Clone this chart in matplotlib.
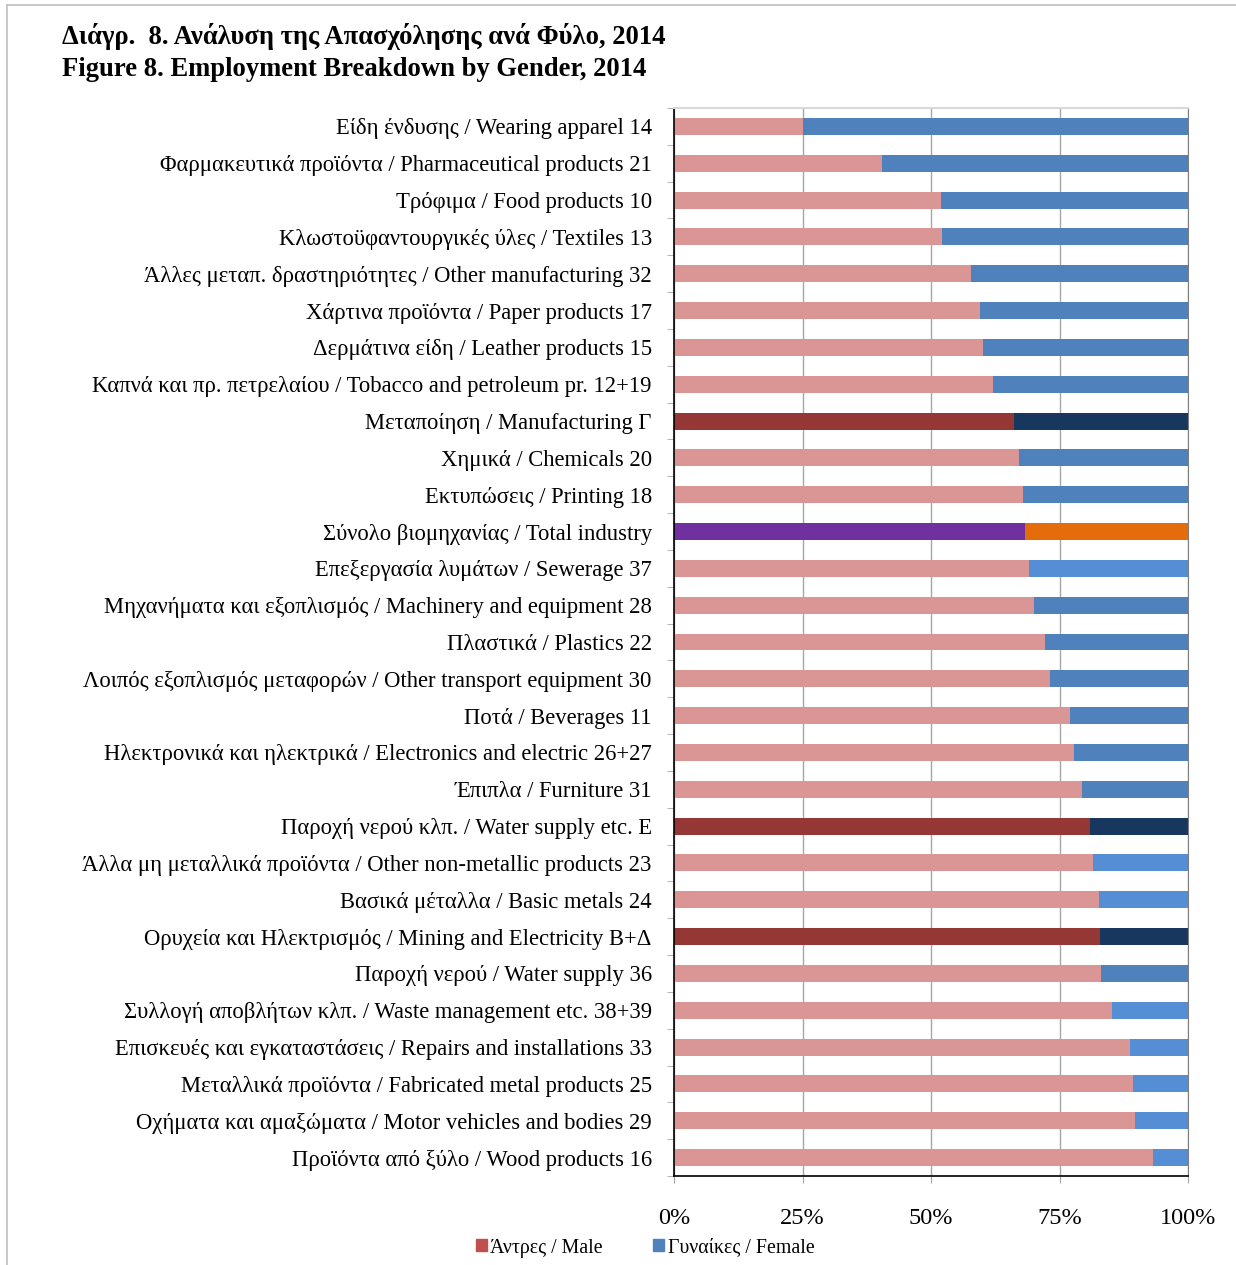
import matplotlib
matplotlib.use("Agg")
import matplotlib.pyplot as plt
from matplotlib.patches import Rectangle
from matplotlib.lines import Line2D
import numpy as np

plt.rcParams['font.family'] = ['Liberation Serif', 'DejaVu Serif']

# categories, top to bottom
labels = [
    "Είδη ένδυσης / Wearing apparel 14",
    "Φαρμακευτικά προϊόντα / Pharmaceutical products 21",
    "Τρόφιμα / Food products 10",
    "Κλωστοϋφαντουργικές ύλες / Textiles 13",
    "Άλλες μεταπ. δραστηριότητες / Other manufacturing 32",
    "Χάρτινα προϊόντα / Paper products 17",
    "Δερμάτινα είδη / Leather products 15",
    "Καπνά και πρ. πετρελαίου / Tobacco and petroleum pr. 12+19",
    "Μεταποίηση / Manufacturing Γ",
    "Χημικά / Chemicals 20",
    "Εκτυπώσεις / Printing 18",
    "Σύνολο βιομηχανίας / Total industry",
    "Επεξεργασία λυμάτων / Sewerage 37",
    "Μηχανήματα και εξοπλισμός / Machinery and equipment 28",
    "Πλαστικά / Plastics 22",
    "Λοιπός εξοπλισμός μεταφορών / Other transport equipment 30",
    "Ποτά / Beverages 11",
    "Ηλεκτρονικά και ηλεκτρικά / Electronics and electric 26+27",
    "Έπιπλα / Furniture 31",
    "Παροχή νερού κλπ. / Water supply etc. E",
    "Άλλα μη μεταλλικά προϊόντα / Other non-metallic products 23",
    "Βασικά μέταλλα / Basic metals 24",
    "Ορυχεία και Ηλεκτρισμός / Mining and Electricity B+Δ",
    "Παροχή νερού / Water supply 36",
    "Συλλογή αποβλήτων κλπ. / Waste management etc. 38+39",
    "Επισκευές και εγκαταστάσεις / Repairs and installations 33",
    "Μεταλλικά προϊόντα / Fabricated metal products 25",
    "Οχήματα και αμαξώματα / Motor vehicles and bodies 29",
    "Προϊόντα από ξύλο / Wood products 16",
]

# share of men (%), women = rest
male = [25.0, 40.5, 51.9, 52.1, 57.8, 59.5, 60.1, 62.1, 66.1, 67.1, 67.9,
        68.3, 69.0, 70.0, 72.1, 73.1, 77.0, 77.8, 79.4, 80.9, 81.6, 82.6,
        82.8, 83.0, 85.3, 88.8, 89.3, 89.6, 93.1]
female = [100 - m for m in male]

# row kind: sub-sector, sector aggregate, total, or "light" sub-sector
kind = ["sub"] * 8 + ["sector", "sub", "sub", "total", "light", "sub", "sub",
        "sub", "sub", "sub", "sub", "sector", "light", "light", "sector",
        "sub", "light", "light", "light", "light", "light"]

male_colors = {"sub": "#D99694", "light": "#D99694", "sector": "#953735", "total": "#7030A0"}
female_colors = {"sub": "#4F81BD", "light": "#558ED5", "sector": "#17375E", "total": "#E46C0A"}

fig = plt.figure(figsize=(12.36, 12.65), dpi=100)
ax = fig.add_axes([674 / 1236, 1 - 1176 / 1265, 514 / 1236, 1068 / 1265])

y = np.arange(len(labels))
ax.barh(y, male, height=0.46, color=[male_colors[k] for k in kind], zorder=2)
ax.barh(y, female, left=male, height=0.46, color=[female_colors[k] for k in kind], zorder=2)

ax.set_xlim(0, 100)
ax.set_ylim(len(labels) - 0.5, -0.5)
ax.set_xticks([0, 25, 50, 75, 100])
ax.set_xticklabels(["0%", "25%", "50%", "75%", "100%"], fontsize=17.5)
ax.set_yticks(y)
ax.set_yticklabels(labels, fontsize=16.3)
ax.set_yticks(np.arange(len(labels) + 1) - 0.5, minor=True)
ax.tick_params(axis='y', which='major', length=0, pad=16)
ax.tick_params(axis='y', which='minor', length=5, color='#A6A6A6', direction='out')
ax.tick_params(axis='x', length=5, color='#A6A6A6', pad=18)

ax.grid(axis='x', color='#A6A6A6', linewidth=1, zorder=0)
ax.spines['left'].set_color('black')
ax.spines['bottom'].set_color('black')
ax.spines['left'].set_linewidth(1.2)
ax.spines['bottom'].set_linewidth(1.2)
ax.spines['right'].set_color('#7F7F7F')
ax.spines['top'].set_color('#D9D9D9')
ax.spines['top'].set_linewidth(1.5)

fig.text(62 / 1236, 1 - 37 / 1265, "Διάγρ.  8. Ανάλυση της Απασχόλησης ανά Φύλο, 2014",
         fontsize=19.2, fontweight='bold', va='center', ha='left')
fig.text(62 / 1236, 1 - 69 / 1265, "Figure 8. Employment Breakdown by Gender, 2014",
         fontsize=19.2, fontweight='bold', va='center', ha='left')

handles = [Rectangle((0, 0), 1, 1, color="#C0504D"), Rectangle((0, 0), 1, 1, color="#4F81BD")]
fig.legend(handles, ["Άντρες / Male", "Γυναίκες / Female"], loc='center',
           bbox_to_anchor=(645 / 1236, 1 - 1248 / 1265), ncol=2, frameon=False,
           fontsize=14.3, handlelength=0.55, handleheight=0.55, handletextpad=0.2,
           columnspacing=2.5)

# light frame around the chart area
fig.add_artist(Line2D([7 / 1236, 7 / 1236], [0, 1 - 5 / 1265], color='#BFBFBF', lw=1.2))
fig.add_artist(Line2D([7 / 1236, 1], [1 - 5 / 1265, 1 - 5 / 1265], color='#BFBFBF', lw=1.2))

fig.savefig("out.png", dpi=100)
